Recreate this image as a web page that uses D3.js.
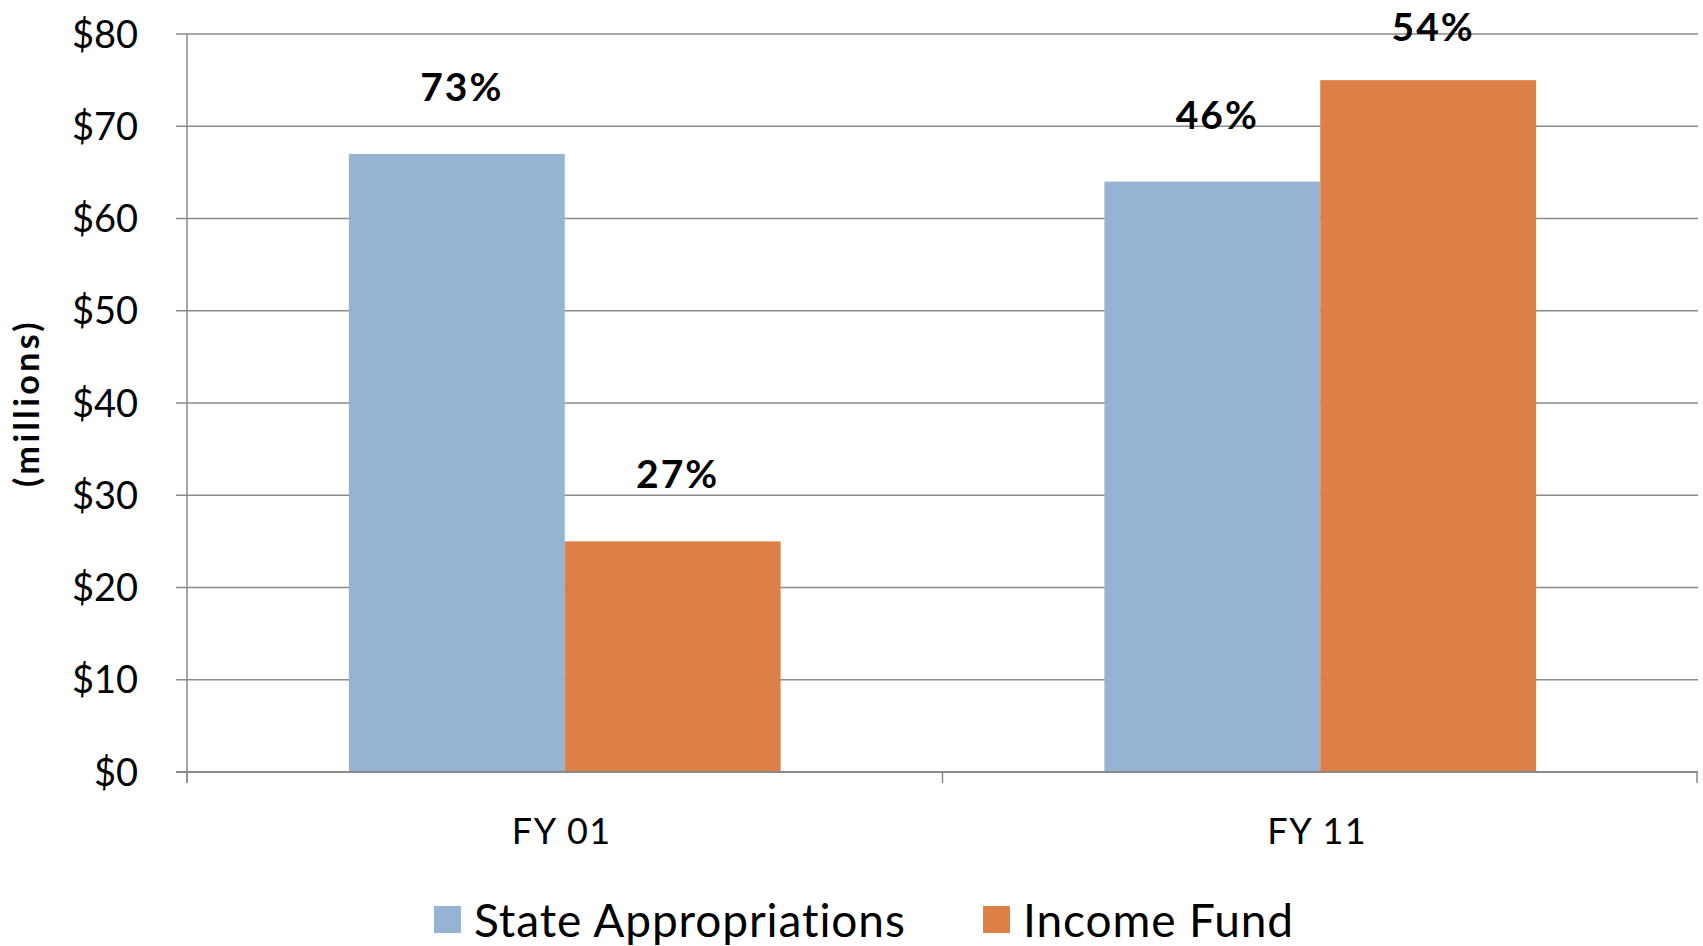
<!DOCTYPE html>
<html>
<head>
<meta charset="utf-8">
<script src="https://cdn.jsdelivr.net/npm/d3@7"></script>
<style>
  html, body { margin: 0; padding: 0; background: #fff; }
  svg { display: block; font-family: Lato, "Open Sans", sans-serif; }
</style>
</head>
<body>
<svg id="chart"></svg>
<script>
// ─── Data ─────────────────────────────────────────────
const categories = ['FY 01', 'FY 11'];
const seriesNames = ['State Appropriations', 'Income Fund'];
const stateAppropriations = [67, 64];   // $ millions
const incomeFund = [25, 75];            // $ millions
const shareLabels = [['73%', '27%'], ['46%', '54%']];
const yTicks = [0, 10, 20, 30, 40, 50, 60, 70, 80];
const colors = ['#95B3D3', '#DD8047'];

const W = 1703, H = 946;
const margin = { top: 34, right: 5, bottom: 174, left: 187 };

const svg = d3.select('#chart').attr('width', W).attr('height', H);

const x0 = d3.scaleBand()
  .domain(categories)
  .range([margin.left, W - margin.right])
  .padding(0);

// Excel style: gap width 150% of a bar
const bw = x0.bandwidth() / 3.5;
const x1 = d3.scaleBand()
  .domain(seriesNames)
  .range([bw * 0.75, bw * 2.75]);

const y = d3.scaleLinear()
  .domain([0, 80])
  .range([H - margin.bottom, margin.top]);

// Gridlines + y ticks
const grid = svg.append('g');
grid.selectAll('line')
  .data(yTicks)
  .enter().append('line')
  .attr('x1', margin.left - 11)
  .attr('x2', W - margin.right)
  .attr('y1', d => y(d)).attr('y2', d => y(d))
  .attr('stroke', '#8a8a8a')
  .attr('stroke-width', 1.5);

grid.selectAll('text')
  .data(yTicks)
  .enter().append('text')
  .attr('x', 138)
  .attr('y', d => y(d))
  .attr('dy', '0.36em')
  .attr('text-anchor', 'end')
  .attr('font-size', 38)
  .attr('fill', '#000')
  .text(d => '$' + d);

// Bars
const rows = categories.map((c, i) => ({
  cat: c,
  vals: [stateAppropriations[i], incomeFund[i]],
  labels: shareLabels[i]
}));

const groups = svg.selectAll('.grp')
  .data(rows)
  .enter().append('g')
  .attr('class', 'grp')
  .attr('transform', d => `translate(${x0(d.cat)},0)`);

groups.selectAll('rect')
  .data(d => d.vals.map((v, j) => ({ name: seriesNames[j], v, j })))
  .enter().append('rect')
  .attr('x', d => x1(d.name))
  .attr('width', x1.bandwidth())
  .attr('y', d => y(d.v))
  .attr('height', d => y(0) - y(d.v))
  .attr('fill', d => colors[d.j]);

groups.selectAll('.pct')
  .data(d => d.vals.map((v, j) => ({ name: seriesNames[j], v, label: d.labels[j] })))
  .enter().append('text')
  .attr('class', 'pct')
  .attr('x', d => x1(d.name) + x1.bandwidth() / 2 + 5)
  .attr('y', d => Math.max(y(d.v) - 53, 41))
  .attr('text-anchor', 'middle')
  .attr('font-size', 39)
  .attr('font-weight', 'bold')
  .attr('letter-spacing', 2)
  .attr('fill', '#000')
  .text(d => d.label);

// Axes lines
svg.append('line')
  .attr('x1', margin.left).attr('x2', margin.left)
  .attr('y1', margin.top).attr('y2', y(0) + 11)
  .attr('stroke', '#8a8a8a').attr('stroke-width', 1.5);

svg.append('line')
  .attr('x1', margin.left - 11).attr('x2', W - margin.right)
  .attr('y1', y(0)).attr('y2', y(0))
  .attr('stroke', '#8a8a8a').attr('stroke-width', 2);

const xTickPos = categories.map(c => x0(c)).concat([W - margin.right - 1]);
svg.selectAll('.xtick')
  .data(xTickPos)
  .enter().append('line')
  .attr('class', 'xtick')
  .attr('x1', d => d).attr('x2', d => d)
  .attr('y1', y(0)).attr('y2', y(0) + 11)
  .attr('stroke', '#8a8a8a').attr('stroke-width', 1.5);

svg.selectAll('.xlab')
  .data(categories)
  .enter().append('text')
  .attr('class', 'xlab')
  .attr('x', d => x0(d) + x0.bandwidth() / 2 - 3)
  .attr('y', 844)
  .attr('text-anchor', 'middle')
  .attr('font-size', 36)
  .attr('letter-spacing', 1.5)
  .attr('fill', '#000')
  .text(d => d);

// Y axis title
svg.append('text')
  .attr('transform', 'translate(39,403) rotate(-90)')
  .attr('text-anchor', 'middle')
  .attr('font-size', 34)
  .attr('font-weight', 'bold')
  .attr('letter-spacing', 3.4)
  .attr('fill', '#000')
  .text('(millions)');

// Legend
const legendX = [434, 983];
const legend = svg.selectAll('.leg')
  .data(seriesNames)
  .enter().append('g')
  .attr('class', 'leg')
  .attr('transform', (d, i) => `translate(${legendX[i]},906)`);

legend.append('rect')
  .attr('width', 27).attr('height', 27)
  .attr('fill', (d, i) => colors[i]);

legend.append('text')
  .attr('x', 40)
  .attr('y', 31)
  .attr('font-size', 46)
  .attr('letter-spacing', 0.9)
  .attr('fill', '#000')
  .text(d => d);
</script>
</body>
</html>
